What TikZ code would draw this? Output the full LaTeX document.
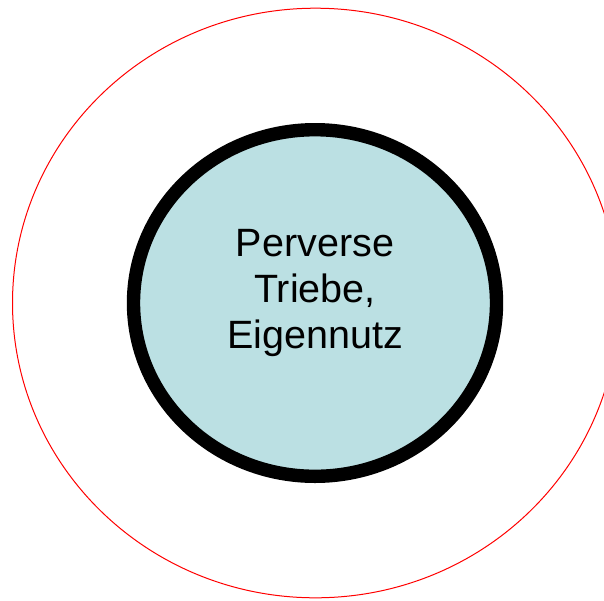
\documentclass[tikz,border=0pt]{standalone}
\usepackage{fontspec}
\setmainfont{Liberation Sans}
\definecolor{hellblau}{RGB}{187,224,227}
\begin{document}
\begin{tikzpicture}[x=1pt,y=-1pt]
    \useasboundingbox (0,0) rectangle (604,600);
    \clip (0,0) rectangle (604,600);

    \draw[red, line width=1pt] (315.5,303) ellipse (303 and 294.8);

    \draw[black, fill=hellblau, line width=13.4pt] (315,303) ellipse (181.5 and 173.3);
    \node[align=center, font=\fontsize{39.5}{46}\selectfont] (triebe) at (315,293) {Perverse\\Triebe,\\Eigennutz};

\end{tikzpicture}
\end{document}
